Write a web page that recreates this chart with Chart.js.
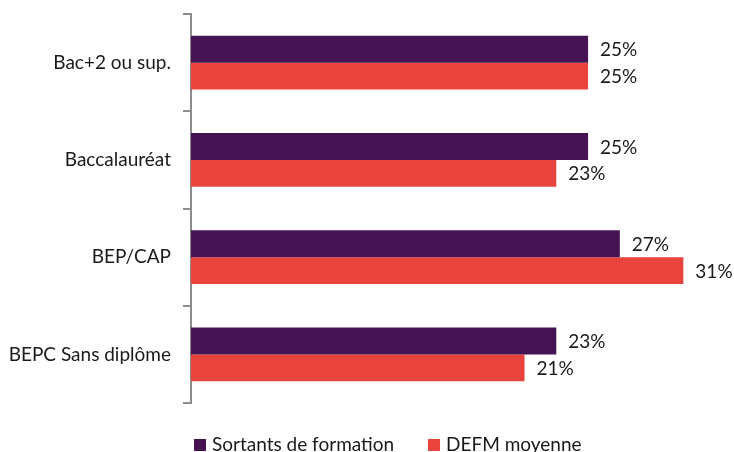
<!DOCTYPE html>
<html>
<head>
<meta charset="utf-8">
<script src="https://cdn.jsdelivr.net/npm/chart.js@4/dist/chart.umd.min.js"></script>
<style>
  html, body { margin: 0; padding: 0; background: #fff; }
  #wrap { width: 734px; height: 452px; }
</style>
</head>
<body>
<div id="wrap"><canvas id="graphe"></canvas></div>
<script>
// donnees
var categories = ["Bac+2 ou sup.", "Baccalauréat", "BEP/CAP", "BEPC Sans diplôme"];
var sortants = [25, 25, 27, 23];
var defm = [25, 23, 31, 21];
var series = ["Sortants de formation", "DEFM moyenne"];
var couleurs = ["#461352", "#E8433D"];

var police = "Lato, 'Open Sans', sans-serif";
var taille = 19;

// etiquettes en bout de barre
var etiquettes = {
    id: 'etiquettes',
    afterDatasetsDraw: function (chart) {
        var ctx = chart.ctx;
        ctx.save();
        ctx.font = taille + "px " + police;
        ctx.fillStyle = "#1a1a1a";
        ctx.textAlign = "left";
        ctx.textBaseline = "middle";
        chart.data.datasets.forEach(function (ds, i) {
            chart.getDatasetMeta(i).data.forEach(function (bar, j) {
                ctx.fillText(ds.data[j] + "%", bar.x + 12, bar.y + 1);
            });
        });
        ctx.restore();
    }
};

// legende dessinee a la main en bas
var legende = {
    id: 'legende',
    afterDraw: function (chart) {
        var ctx = chart.ctx;
        var pos = [194, 428];
        ctx.save();
        ctx.font = taille + "px " + police;
        ctx.textBaseline = "alphabetic";
        chart.data.datasets.forEach(function (ds, i) {
            ctx.fillStyle = ds.backgroundColor;
            ctx.fillRect(pos[i], 439, 12, 12);
            ctx.fillStyle = "#1a1a1a";
            ctx.fillText(ds.label, pos[i] + 18, 450.5);
        });
        ctx.restore();
    }
};

new Chart(document.getElementById('graphe'), {
    type: 'bar',
    data: {
        labels: categories,
        datasets: [{
            label: series[0],
            data: sortants,
            backgroundColor: couleurs[0],
            categoryPercentage: 0.555,
            barPercentage: 1
        }, {
            label: series[1],
            data: defm,
            backgroundColor: couleurs[1],
            categoryPercentage: 0.555,
            barPercentage: 1
        }]
    },
    options: {
        indexAxis: 'y',
        responsive: true,
        maintainAspectRatio: false,
        animation: false,
        layout: { padding: { top: 14, bottom: 49, left: 0, right: 3 } },
        plugins: {
            legend: { display: false },
            tooltip: { enabled: false }
        },
        scales: {
            x: {
                display: false,
                min: 0,
                max: 34
            },
            y: {
                afterFit: function (s) {
                    s.width = 191;
                    s.paddingTop = 0;
                    s.paddingBottom = 0;
                },
                border: { display: true, color: "#8c8c8c", width: 2 },
                grid: {
                    drawOnChartArea: false,
                    drawTicks: true,
                    tickLength: 8,
                    color: "#8c8c8c",
                    lineWidth: 2
                },
                ticks: {
                    color: "#1a1a1a",
                    padding: 12,
                    font: { family: police, size: taille }
                }
            }
        }
    },
    plugins: [etiquettes, legende]
});
</script>
</body>
</html>
